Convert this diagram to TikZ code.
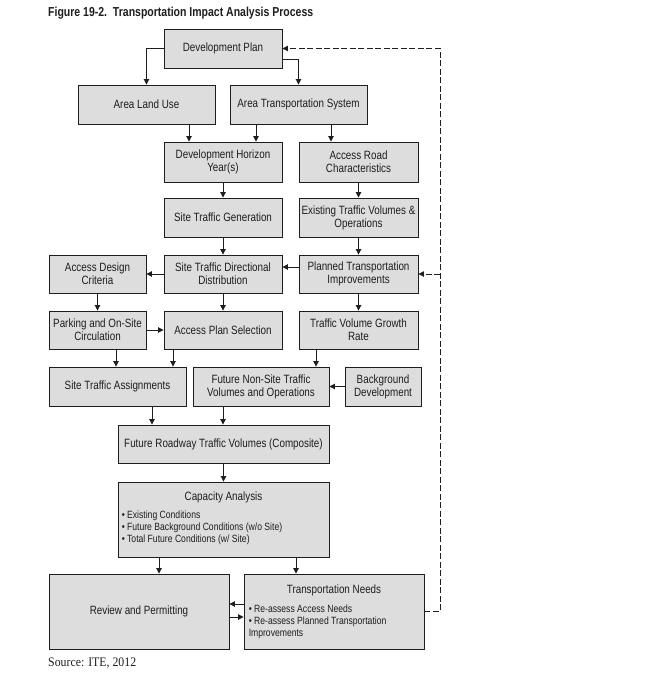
\documentclass[tikz,border=0pt]{standalone}
\usepackage{fontspec}
\setmainfont{Liberation Sans}[FakeStretch=0.82]
\newfontfamily\titlefont{Liberation Sans}
\newfontfamily\srcfont{Liberation Serif}
\usetikzlibrary{arrows.meta}
\definecolor{boxgray}{RGB}{221,221,221}
\definecolor{ink}{RGB}{30,30,30}
\tikzset{
  box/.style={draw=ink, line width=0.9pt, fill=boxgray, inner sep=1pt, align=center,
    text=ink, font=\fontsize{12}{13}\selectfont},
  arr/.style={draw=ink, line width=0.9pt, -{Triangle[length=5.5pt,width=5.5pt]}},
  dashln/.style={draw=ink, line width=0.8pt, dash pattern=on 6pt off 2.5pt},
  dasharr/.style={dashln, -{Triangle[length=5.5pt,width=5.5pt]}},
  small/.style={font=\fontsize{10.5}{12}\selectfont, text=ink, inner sep=0pt, align=left},
  head/.style={font=\fontsize{12}{13}\selectfont, text=ink, inner sep=0pt}
}
\begin{document}
\begin{tikzpicture}[x=1pt,y=-1pt]
\useasboundingbox (0,0) rectangle (651,674);
% title
\node[anchor=base west, inner sep=0pt, text=ink] (title) at (48,16.7)
  {\resizebox{265pt}{\height}{\fontsize{13}{15}\selectfont\titlefont\bfseries Figure 19-2.\ \ Transportation Impact Analysis Process}};
% boxes
\node[box, minimum width=118pt, minimum height=39pt] (DP) at (223,48.5) {Development Plan};
\node[box, minimum width=137pt, minimum height=39pt] (ALU) at (146.5,104.5) {Area Land Use};
\node[box, minimum width=137pt, minimum height=39pt] (ATS) at (298.5,104.5) {Area Transportation System};
\node[box, minimum width=118pt, minimum height=40pt] (DHY) at (223,162) {Development Horizon\\Year(s)};
\node[box, minimum width=119pt, minimum height=40pt] (ARC) at (358.5,162) {Access Road\\Characteristics};
\node[box, minimum width=118pt, minimum height=39pt] (STG) at (223,217.5) {Site Traffic Generation};
\node[box, minimum width=119pt, minimum height=39pt] (ETV) at (358.5,217.5) {Existing Traffic Volumes \&\\Operations};
\node[box, minimum width=97pt, minimum height=38pt] (ADC) at (97.5,274) {Access Design\\Criteria};
\node[box, minimum width=118pt, minimum height=38pt] (STDD) at (223,274) {Site Traffic Directional\\Distribution};
\node[box, minimum width=119pt, minimum height=38pt] (PTI) at (358.5,274) {Planned Transportation\\Improvements};
\node[box, minimum width=97pt, minimum height=38pt] (POSC) at (97.5,330) {Parking and On-Site\\Circulation};
\node[box, minimum width=118pt, minimum height=38pt] (APS) at (223,330) {Access Plan Selection};
\node[box, minimum width=119pt, minimum height=38pt] (TVGR) at (358.5,330) {Traffic Volume Growth\\Rate};
\node[box, minimum width=137pt, minimum height=39pt] (STA) at (117.5,386.5) {Site Traffic Assignments};
\node[box, minimum width=136pt, minimum height=39pt] (FNST) at (261,386.5) {Future Non-Site Traffic\\Volumes and Operations};
\node[box, minimum width=76pt, minimum height=39pt] (BD) at (383,386.5) {Background\\Development};
\node[box, minimum width=211pt, minimum height=38pt] (FRTV) at (223.5,444) {Future Roadway Traffic Volumes (Composite)};
\node[box, minimum width=211pt, minimum height=75pt] (CA) at (223.5,519.5) {};
\node[box, minimum width=180pt, minimum height=75pt] (RP) at (139,611.5) {Review and Permitting};
\node[box, minimum width=180pt, minimum height=75pt] (TN) at (334,611.5) {};
% box inner texts
\node[head, anchor=base] (CAt) at ([yshift=-19pt]CA.north) {Capacity Analysis};
\node[small, anchor=base west] (CAb) at ([xshift=4pt,yshift=-61pt]CA.north west)
  {• Existing Conditions\\• Future Background Conditions (w/o Site)\\• Total Future Conditions (w/ Site)};
\node[head, anchor=base] (TNt) at ([yshift=-20pt]TN.north) {Transportation Needs};
\node[small, anchor=base west] (TNb) at ([xshift=5pt,yshift=-63pt]TN.north west)
  {• Re-assess Access Needs\\• Re-assess Planned Transportation\\Improvements};
% connectors
\draw[arr] (DP.west) -| (ALU.north);
\draw[arr] ([yshift=-10.5pt]DP.east) -| (ATS.north);
\draw[arr] ([xshift=42.5pt]ALU.south) -- ([xshift=-34pt]DHY.north);
\draw[arr] ([xshift=-42.5pt]ATS.south) -- ([xshift=33pt]DHY.north);
\draw[arr] ([xshift=32.5pt]ATS.south) -- ([xshift=-27.5pt]ARC.north);
\draw[arr] (DHY.south) -- (STG.north);
\draw[arr] (ARC.south) -- (ETV.north);
\draw[arr] (STG.south) -- (STDD.north);
\draw[arr] (ETV.south) -- (PTI.north);
\draw[arr] ([yshift=7pt]PTI.west) -- ([yshift=7pt]STDD.east);
\draw[arr] (STDD.west) -- (ADC.east);
\draw[arr] (ADC.south) -- (POSC.north);
\draw[arr] (STDD.south) -- (APS.north);
\draw[arr] (PTI.south) -- (TVGR.north);
\draw[arr] (POSC.east) -- (APS.west);
\draw[arr] ([xshift=18.5pt]POSC.south) -- ([xshift=-1.5pt]STA.north);
\draw[arr] ([xshift=-50pt]APS.south) -- ([xshift=55.5pt]STA.north);
\draw[arr] ([xshift=-42.5pt]TVGR.south) -- ([xshift=55pt]FNST.north);
\draw[arr] (BD.west) -- (FNST.east);
\draw[arr] ([xshift=34.5pt]STA.south) -- ([xshift=-71.5pt]FRTV.north);
\draw[arr] ([xshift=-38pt]FNST.south) -- ([xshift=-0.5pt]FRTV.north);
\draw[arr] (FRTV.south) -- (CA.north);
\draw[arr] ([xshift=-64.5pt]CA.south) -- ([xshift=20pt]RP.north);
\draw[arr] ([xshift=72.5pt]CA.south) -- ([xshift=-38pt]TN.north);
\draw[arr] ([yshift=7.5pt]TN.west) -- ([yshift=7.5pt]RP.east);
\draw[arr] ([yshift=-5.5pt]RP.east) -- ([yshift=-5.5pt]TN.west);
\coordinate (dx) at (440,0);
\draw[dasharr] (TN.east) -- (TN.east -| dx) |- (DP.east);
\draw[dasharr] (PTI.east -| dx) -- (PTI.east);
% source
\node[anchor=base west, inner sep=0pt, text=ink] (src) at (48,666)
  {\resizebox{88pt}{\height}{\fontsize{13}{15}\selectfont\srcfont Source: ITE, 2012}};
\end{tikzpicture}
\end{document}
